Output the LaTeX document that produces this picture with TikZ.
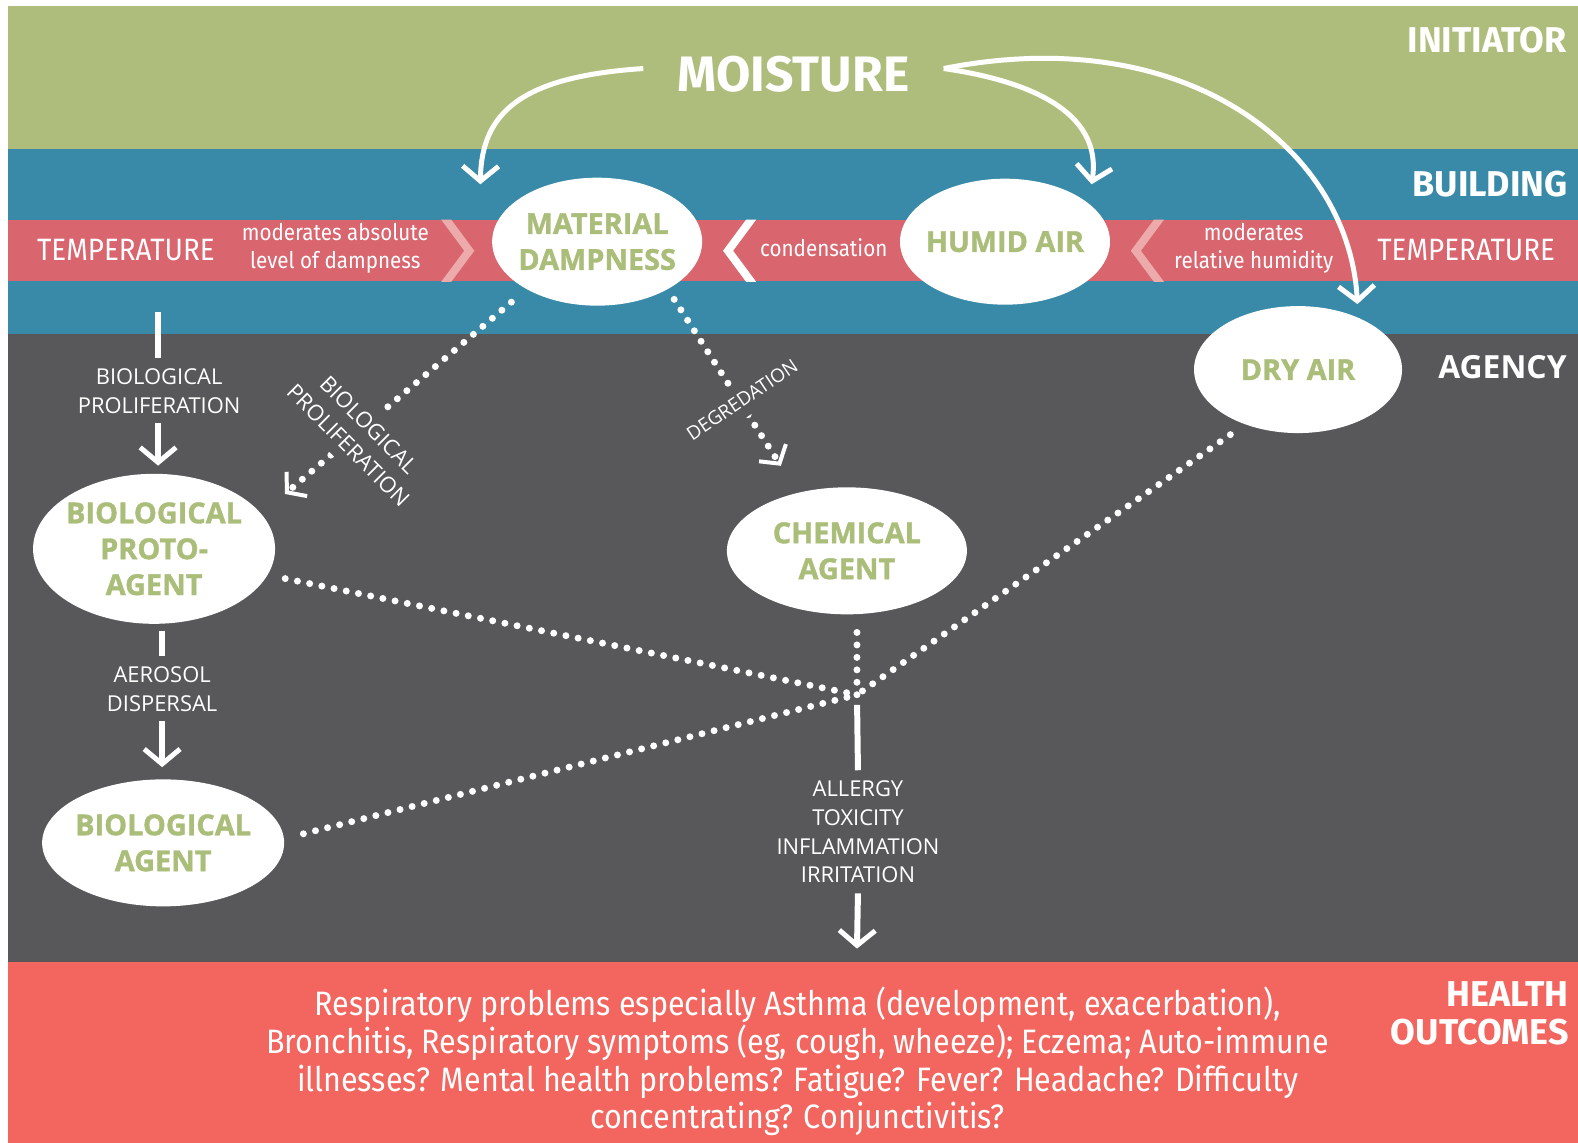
\documentclass[tikz,border=0pt]{standalone}
\usepackage{fontspec}
\setmainfont{Open Sans}
\newfontfamily\cnd[FakeStretch=0.9]{Fira Sans}
\newfontfamily\sidef{Fira Sans}
\newfontfamily\heavy[BoldFeatures={FakeBold=1.2}]{Open Sans}
\usetikzlibrary{arrows.meta,shapes.geometric}
\definecolor{bandgreen}{RGB}{174,189,123}
\definecolor{bandblue}{RGB}{56,138,168}
\definecolor{stripe}{RGB}{217,101,110}
\definecolor{palechev}{RGB}{236,170,170}
\definecolor{darkbg}{RGB}{88,88,90}
\definecolor{healthred}{RGB}{242,102,95}
\definecolor{txtgreen}{RGB}{170,189,121}
\newcommand\fsz[2]{\fontsize{#1}{#2}\selectfont}
\begin{document}
\begin{tikzpicture}[x=1.007bp,y=-1.007bp,
  bubble/.style={ellipse, fill=white, inner sep=0pt},
  bubtxt/.style={text=txtgreen, font=\heavy\bfseries\fsz{29}{36}, align=center, inner sep=0pt},
  small/.style={text=white, font=\fsz{22}{29}, align=center, inner sep=0pt},
  cond/.style={text=white, font=\cnd\fsz{31}{28}, align=center, inner sep=0pt},
  condsm/.style={text=white, font=\cnd\fsz{23}{28}, align=center, inner sep=0pt},
  side/.style={text=white, font=\sidef\bfseries\fsz{36}{38}, anchor=east, align=right, inner sep=0pt},
  bigcurve/.style={white, line width=5pt, -{Straight Barb[length=15pt,width=36pt,line width=5pt]}},
  solidarrow/.style={white, line width=6pt, -{Straight Barb[length=15pt,width=36pt,line width=5pt]}},
  solidline/.style={white, line width=6pt},
  dots/.style={white, line width=7pt, line cap=round, dash pattern=on 0pt off 12.5pt},
  dotarrow/.style={dots, -{Straight Barb[length=13pt,width=32pt,line width=4pt]}},
  gaplabel/.style={small, fill=darkbg, inner xsep=2pt, inner ysep=10pt},
]
\useasboundingbox (0bp,0bp) rectangle (1578bp,-1143bp);
% background bands
\fill[white] (0,0) rectangle (1580,1145);
\fill[bandgreen] (8,6) rectangle (1580,148);
\fill[bandblue] (8,148) rectangle (1580,332);
\fill[stripe] (8,218) rectangle (1580,279);
\fill[darkbg] (8,332) rectangle (1580,955);
\fill[healthred] (8,955) rectangle (1580,1145);
% chevrons in the stripe
\fill[palechev] (438,218) -- (448,218) -- (471,249) -- (448,280) -- (438,280) -- (461,249) -- cycle;
\fill[white] (741,218) -- (751,218) -- (728,249) -- (751,280) -- (741,280) -- (718,249) -- cycle;
\fill[palechev] (1146,218) -- (1156,218) -- (1133,249) -- (1156,280) -- (1146,280) -- (1123,249) -- cycle;
% side labels
\node[side] (ini) at (1556,40) {INITIATOR};
\node[side] (bld) at (1557,183) {BUILDING};
\node[side, font=\bfseries\fsz{32}{38}] (agy) at (1556,365) {AGENCY};
\node[side] (hoc) at (1558,1006) {HEALTH\\OUTCOMES};
% stripe labels
\node[cond] (tl) at (125,248) {TEMPERATURE};
\node[condsm] (mal) at (333,247) {moderates absolute\\level of dampness};
\node[condsm] (cn) at (818,246) {condensation};
\node[condsm] (mrh) at (1245,247) {moderates\\relative humidity};
\node[cond] (tr) at (1456,248) {TEMPERATURE};
% moisture
\node[text=white, font=\sidef\bfseries\fsz{50}{50}, inner sep=0pt, minimum width=300bp] (mo) at (788,74) {MOISTURE};
% bubbles
\node[bubble, minimum width=210bp, minimum height=128bp, label={[bubtxt]center:{MATERIAL\\DAMPNESS}}] (md) at (593,240) {};
\node[bubble, minimum width=210bp, minimum height=126bp, label={[bubtxt]center:{HUMID AIR}}] (ha) at (998,240) {};
\node[bubble, minimum width=208bp, minimum height=127bp, label={[bubtxt]center:{DRY AIR}}] (da) at (1289,367) {};
\node[bubble, minimum width=242bp, minimum height=150bp, label={[bubtxt]center:{BIOLOGICAL\\PROTO-\\AGENT}}] (pa) at (153,545) {};
\node[bubble, minimum width=240bp, minimum height=127bp, label={[bubtxt]center:{CHEMICAL\\AGENT}}] (ca) at (841,547) {};
\node[bubble, minimum width=242bp, minimum height=127bp, label={[bubtxt]center:{BIOLOGICAL\\AGENT}}] (ba) at (162,837) {};
% moisture arrows
\coordinate (t1) at (477,183);
\coordinate (t2) at (1084,183);
\coordinate (t3) at (1348,302);
\draw[bigcurve] ([yshift=6bp]mo.west) .. controls (520,76) and (478,110) .. (t1);
\draw[bigcurve] ([yshift=6bp]mo.east) .. controls (1020,80) and (1095,110) .. (t2);
\draw[bigcurve] ([yshift=6bp]mo.east) .. controls (1180,20) and (1340,150) .. (t3);
% left vertical chain
\coordinate (s1) at (157,310);
\node[small, inner ysep=10pt] (bp) at (158,388) {BIOLOGICAL\\PROLIFERATION};
\draw[solidline] (s1) -- (s1 |- bp.north);
\draw[solidarrow, shorten >=8pt] (bp.south -| s1) -- (s1 |- pa.north);
\node[small, inner ysep=10pt] (ad) at (161,684) {AEROSOL\\DISPERSAL};
\draw[solidline, shorten <=7pt] (pa.south -| ad) -- (ad.north);
\draw[solidarrow, shorten >=12pt] (ad.south) -- (ad |- ba.north);
% dotted arrows from material dampness
\draw[dotarrow, shorten <=20pt, shorten >=31pt] (md.214) -- (pa.18);
\node[gaplabel, rotate=-45] (bpr) at (356,432) {BIOLOGICAL\\PROLIFERATION};
\draw[dotarrow, shorten <=12pt, shorten >=32pt] (md.-34) -- (ca.130);
\node[gaplabel, font=\fsz{19}{24}, rotate=34] (dg) at (737,397) {DEGREDATION};
% convergence
\coordinate (cv) at (851,690);
\draw[dots, shorten <=18pt] (pa.-13) -- (cv);
\draw[dots, shorten <=20pt] (ba.2) -- (cv);
\draw[dots, shorten <=18pt] (ca.south -| cv) -- (cv);
\draw[dots, shorten <=18pt] (da.226) -- (cv);
\node[small, inner ysep=10pt] (al) at (852,826) {ALLERGY\\TOXICITY\\INFLAMMATION\\IRRITATION};
\draw[solidline, shorten <=10pt] (cv) -- (al.north);
\coordinate (tip) at (851,942);
\draw[solidarrow] (al.south) -- (tip);
% health outcomes text
\node[text=white, font=\cnd\fsz{34}{38}, align=center, inner sep=0pt] (hx) at (792,1054)
 {Respiratory problems especially Asthma (development, exacerbation),\\
  Bronchitis, Respiratory symptoms (eg, cough, wheeze); Eczema; Auto-immune\\
  illnesses? Mental health problems? Fatigue? Fever? Headache? Difficulty\\
  concentrating? Conjunctivitis?};
\end{tikzpicture}
\end{document}
